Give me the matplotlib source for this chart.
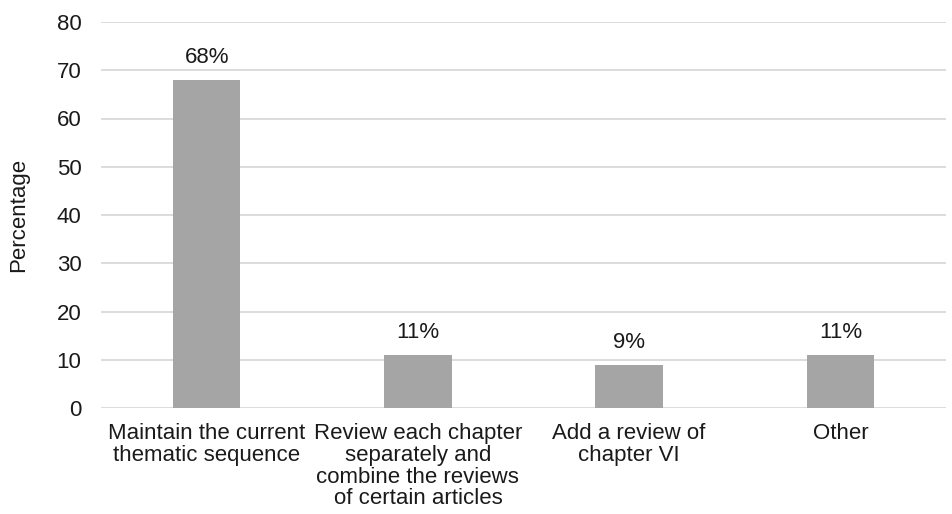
import matplotlib.pyplot as plt

categories = ["Maintain the current\nthematic sequence",
              "Review each chapter\nseparately and\ncombine the reviews\nof certain articles",
              "Add a review of\nchapter VI",
              "Other"]
values = [68, 11, 9, 11]

plt.rcParams['font.family'] = ['Liberation Sans', 'DejaVu Sans']
plt.rcParams['font.size'] = 16

fig = plt.figure(figsize=(9.52, 5.14), dpi=100)
ax = fig.add_axes([101 / 952, 1 - 408 / 514, 845 / 952, 386 / 514])

x = range(len(categories))
bars = ax.bar(x, values, width=0.32, color='#a5a5a5', zorder=3)
for b, v in zip(bars, values):
    ax.text(b.get_x() + b.get_width() / 2, v + 2.5, f"{v}%",
            ha='center', va='bottom', color='#1a1a1a')

ax.set_xlim(-0.5, len(categories) - 0.5)
ax.set_ylim(0, 80)
ax.set_yticks(range(0, 81, 10))
ax.set_xticks(list(x))
ax.set_xticklabels(categories, linespacing=1.04)
ax.tick_params(axis='both', length=0, colors='#1a1a1a')
ax.tick_params(axis='x', pad=11)
ax.tick_params(axis='y', pad=14)
ax.grid(axis='y', color='#d9d9d9', linewidth=1.3, zorder=0)
for s in ax.spines.values():
    s.set_visible(False)
ax.set_ylabel("Percentage", color='#1a1a1a', labelpad=20)

fig.savefig("out.png", dpi=100)
